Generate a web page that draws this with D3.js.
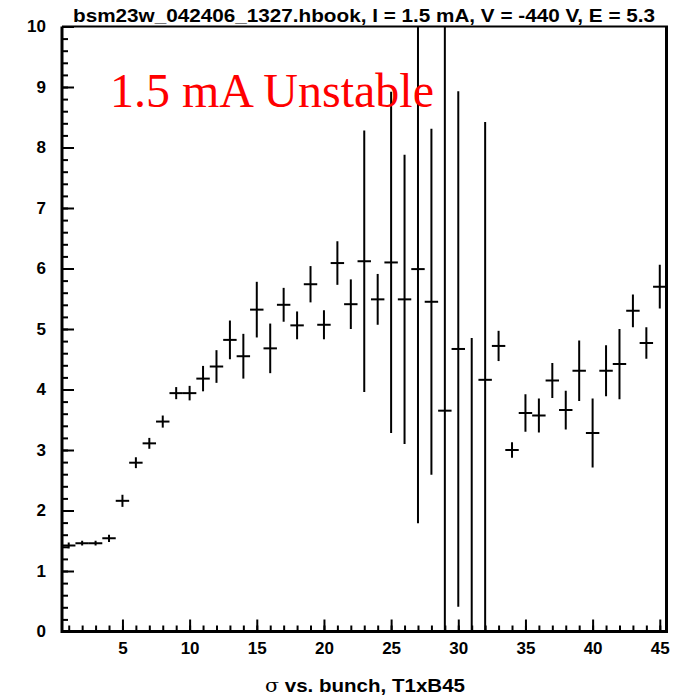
<!DOCTYPE html>
<html lang="en">
<head>
    <meta charset="UTF-8">
    <title>sigma vs bunch</title>
    <script src="https://d3js.org/d3.v7.min.js"></script>
    <style>
        body {margin: 0; background: white;}
        text {font-family: "Liberation Sans", Arial, sans-serif; font-weight: bold;}
    </style>
</head>
<body>
<script>
    const width = 681;
    const height = 696;

    // bunch number, sigma, and error
    const bunches = d3.range(1, 46);
    const sigma = [1.42, 1.46, 1.46, 1.54, 2.16, 2.79, 3.11, 3.47, 3.94, 3.94,
                   4.18, 4.38, 4.82, 4.55, 5.32, 4.68, 5.40, 5.06, 5.74, 5.07,
                   6.09, 5.41, 6.12, 5.49, 6.10, 5.49, 5.99, 5.45, 3.65, 4.67,
                   0.00, 4.16, 4.72, 3.00, 3.61, 3.57, 4.15, 3.66, 4.31, 3.28,
                   4.31, 4.42, 5.30, 4.77, 5.70];
    const sigmaErr = [0.05, 0.04, 0.04, 0.06, 0.10, 0.09, 0.09, 0.10, 0.10, 0.12,
                      0.21, 0.27, 0.32, 0.37, 0.46, 0.41, 0.28, 0.23, 0.30, 0.24,
                      0.36, 0.41, 2.16, 0.42, 2.82, 2.39, 4.20, 2.86, 6.50, 4.26,
                      4.85, 4.26, 0.25, 0.13, 0.31, 0.28, 0.29, 0.32, 0.50, 0.57,
                      0.42, 0.58, 0.27, 0.26, 0.36];
    const xMajor = [5, 10, 15, 20, 25, 30, 35, 40, 45];
    const yMajor = [0, 1, 2, 3, 4, 5, 6, 7, 8, 9, 10];

    const title = "bsm23w_042406_1327.hbook, I = 1.5 mA, V = -440 V, E = 5.3";
    const note = "1.5 mA Unstable";

    const pLeft = 62, pRight = 666.5, pTop = 26.5, pBottom = 631.5;

    const svg = d3.select("body").append("svg")
            .attr("width", width).attr("height", height);

    const x = d3.scaleLinear().domain([0.5, 45.5]).range([pLeft, pRight]);
    const y = d3.scaleLinear().domain([0, 10]).range([pBottom, pTop]);

    svg.append("clipPath").attr("id", "frame")
            .append("rect")
            .attr("x", pLeft).attr("y", pTop)
            .attr("width", pRight - pLeft).attr("height", pBottom - pTop);

    // minor ticks
    svg.append("g")
            .attr("transform", `translate(0,${pBottom})`)
            .call(d3.axisBottom(x).tickValues(bunches).tickSize(-6).tickFormat(""))
            .call(g => g.select(".domain").remove());
    svg.append("g")
            .attr("transform", `translate(${pLeft},0)`)
            .call(d3.axisLeft(y).tickValues(d3.range(0, 50).map(d => d / 5)).tickSize(-6).tickFormat(""))
            .call(g => g.select(".domain").remove());

    // major ticks + labels
    svg.append("g")
            .attr("transform", `translate(0,${pBottom})`)
            .call(d3.axisBottom(x).tickValues(xMajor).tickSize(-12).tickPadding(10))
            .call(g => g.select(".domain").remove());
    svg.append("g")
            .attr("transform", `translate(${pLeft},0)`)
            .call(d3.axisLeft(y).tickValues(yMajor).tickSize(-12).tickPadding(16))
            .call(g => g.select(".domain").remove());

    svg.selectAll(".tick line").attr("stroke", "black").attr("stroke-width", 2);
    svg.selectAll(".tick text")
            .attr("fill", "black")
            .style("font-size", "17px")
            .style("font-family", "'Liberation Sans', Arial, sans-serif")
            .style("font-weight", "bold");

    // error bars
    const pts = bunches.map((b, i) => ({b: b, v: sigma[i], e: sigmaErr[i]}));
    const marks = svg.append("g").attr("clip-path", "url(#frame)")
            .attr("stroke", "black").attr("stroke-width", 2);

    marks.selectAll("line.err")
            .data(pts)
            .enter()
            .append("line")
            .attr("class", "err")
            .attr("x1", d => x(d.b)).attr("x2", d => x(d.b))
            .attr("y1", d => y(d.v + d.e)).attr("y2", d => y(d.v - d.e));

    marks.selectAll("line.bin")
            .data(pts)
            .enter()
            .append("line")
            .attr("class", "bin")
            .attr("x1", d => x(d.b - 0.5)).attr("x2", d => x(d.b + 0.5))
            .attr("y1", d => y(d.v)).attr("y2", d => y(d.v));

    // frame
    svg.append("line").attr("x1", pLeft).attr("x2", pRight + 1.5).attr("y1", pBottom).attr("y2", pBottom)
            .attr("stroke", "black").attr("stroke-width", 3);
    svg.append("line").attr("x1", pLeft).attr("x2", pLeft).attr("y1", pTop).attr("y2", pBottom + 1.5)
            .attr("stroke", "black").attr("stroke-width", 3);
    svg.append("line").attr("x1", pRight).attr("x2", pRight).attr("y1", pTop).attr("y2", pBottom)
            .attr("stroke", "black").attr("stroke-width", 3);
    svg.append("line").attr("x1", pLeft).attr("x2", pRight + 1.5).attr("y1", pTop).attr("y2", pTop)
            .attr("stroke", "black").attr("stroke-width", 2);

    // titles
    svg.append("text")
            .attr("x", 73).attr("y", 22)
            .attr("textLength", 582).attr("lengthAdjust", "spacingAndGlyphs")
            .style("font-size", "17.5px")
            .text(title);

    const xt = svg.append("text")
            .attr("x", 265).attr("y", 692)
            .attr("textLength", 200).attr("lengthAdjust", "spacingAndGlyphs")
            .style("font-size", "18px");
    xt.append("tspan")
            .style("font-family", "'DejaVu Serif', 'Liberation Serif', serif")
            .style("font-weight", "normal")
            .text("σ");
    xt.append("tspan").text(" vs. bunch, T1xB45");

    svg.append("text")
            .attr("x", 110).attr("y", 106.5)
            .attr("fill", "red")
            .style("font-family", "'Liberation Serif', 'Times New Roman', serif")
            .style("font-weight", "normal")
            .style("font-size", "48px")
            .text(note);
</script>
</body>
</html>
